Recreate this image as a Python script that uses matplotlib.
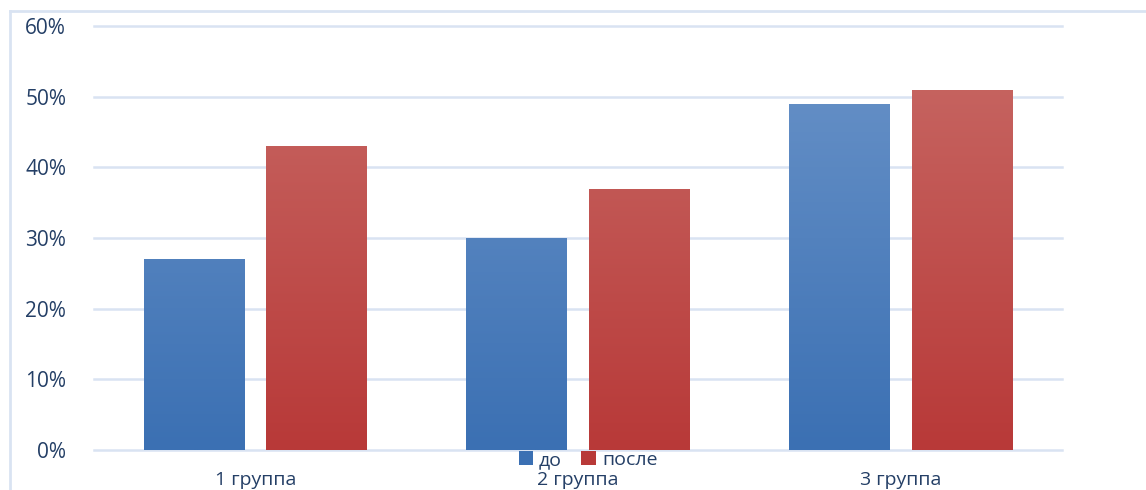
import matplotlib
matplotlib.use('Agg')
import matplotlib.pyplot as plt
import numpy as np
from matplotlib.lines import Line2D
from matplotlib.patches import Patch
from matplotlib.colors import LinearSegmentedColormap

plt.rcParams['font.family'] = ['Open Sans', 'DejaVu Sans']

groups = ['1 группа', '2 группа', '3 группа']
series = ['до', 'после']
before = [27, 30, 49]
after = [43, 37, 51]
yticks = [0, 10, 20, 30, 40, 50, 60]

blue_top, blue_bot = '#6B94C9', '#3B70B3'
red_top, red_bot = '#C86A66', '#B83938'
text_col = '#243F66'
grid_col = '#D9E3F2'

fig = plt.figure(figsize=(11.46, 4.9), dpi=100)
ax = fig.add_axes([94 / 1146, 40 / 490, 968 / 1146, 424 / 490])

x = np.arange(len(groups))
w = 0.312
off = 0.19


def grad_bars(xs, vals, top, bot):
    cmap = LinearSegmentedColormap.from_list('g', [bot, top])
    bars = ax.bar(xs, vals, w, color='none', edgecolor='none', zorder=3)
    grad = np.linspace(0, 1, 256).reshape(-1, 1)
    for b in bars:
        x0 = b.get_x()
        im = ax.imshow(grad, cmap=cmap, origin='lower', aspect='auto',
                       extent=[x0, x0 + b.get_width(), 0, 60], zorder=3)
        im.set_clip_path(b)
    return bars


grad_bars(x - off, before, blue_top, blue_bot)
grad_bars(x + off, after, red_top, red_bot)

ax.set_xlim(-0.5, 2.5)
ax.set_ylim(0, 60)
ax.set_yticks(yticks)
ax.set_yticklabels([f'{v}%' for v in yticks])
ax.set_xticks(x)
ax.set_xticklabels(groups)
ax.grid(axis='y', color=grid_col, lw=1.8, zorder=0)
for gl in ax.get_ygridlines():
    gl.set_clip_on(False)
ax.set_axisbelow(True)
for s in ax.spines.values():
    s.set_visible(False)
ax.tick_params(axis='y', length=0, pad=20, labelsize=15, labelcolor=text_col)
ax.tick_params(axis='x', length=0, pad=15, labelsize=14, labelcolor=text_col)

handles = [Patch(facecolor=blue_bot, label=series[0]),
           Patch(facecolor=red_bot, label=series[1])]
fig.legend(handles=handles, loc='center', bbox_to_anchor=(588 / 1146, 1 - 460 / 490),
           ncol=2, frameon=False, fontsize=14, handlelength=0.75, handleheight=0.75,
           handletextpad=0.3, columnspacing=1.0, labelcolor=text_col,
           borderaxespad=0, borderpad=0)

# chart-area border (left and top edges)
fig.add_artist(Line2D([10 / 1146, 10 / 1146], [0, 1 - 11 / 490],
                      transform=fig.transFigure, color=grid_col, lw=2))
fig.add_artist(Line2D([10 / 1146, 1], [1 - 11 / 490, 1 - 11 / 490],
                      transform=fig.transFigure, color=grid_col, lw=2))

fig.savefig('out.png', dpi=100)
